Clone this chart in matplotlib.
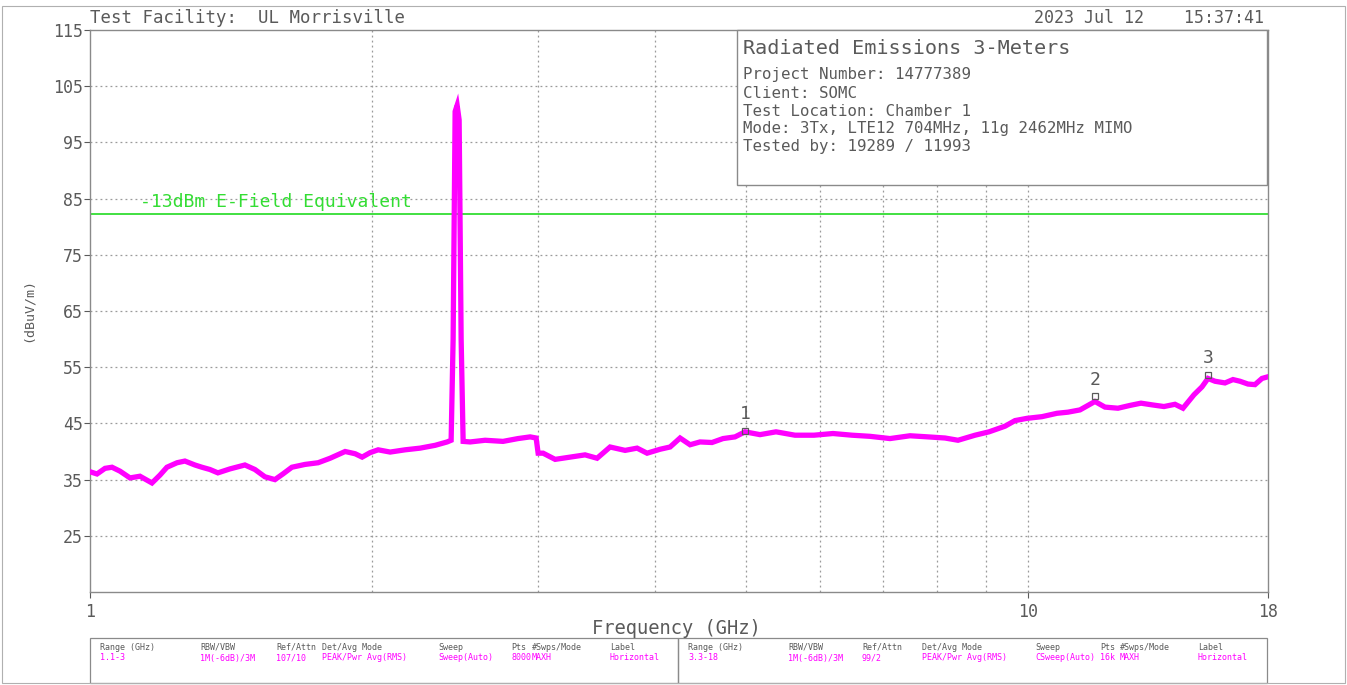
import matplotlib
matplotlib.use("Agg")
import matplotlib.pyplot as plt
from matplotlib.patches import Rectangle
from matplotlib.ticker import FixedLocator, NullFormatter

# ---- data ------------------------------------------------------------------
freq_ghz = [
    1.000, 1.0173, 1.0375, 1.0555, 1.0764, 1.1031, 1.1304, 1.1642, 1.1872, 1.2078,
    1.2381, 1.2622, 1.2935, 1.3159, 1.3420, 1.3686, 1.4095, 1.4624, 1.4987, 1.5359,
    1.5741, 1.6052, 1.6411, 1.6947, 1.7502, 1.8025, 1.8701, 1.9166, 1.9498, 1.9885,
    2.0279, 2.0885, 2.1668, 2.2481, 2.3323, 2.4019, 2.4256, 2.4375, 2.4495, 2.4616,
    2.4737, 2.4859, 2.4981, 2.5414, 2.6366, 2.7549, 2.8581, 2.9445, 2.9881,
    3.0028, 3.0398, 3.1306, 3.2477, 3.3694, 3.4701, 3.5826, 3.7170, 3.8280, 3.9230,
    4.0503, 4.1508, 4.2538, 4.3594, 4.4670, 4.6004, 4.7263, 4.8676, 4.9884, 5.1754,
    5.3827, 5.6396, 5.9085, 6.1903, 6.4854, 6.7782, 7.1193, 7.4780, 7.8155, 8.1485,
    8.4128, 8.7721, 9.0785, 9.4411, 9.6756, 9.9648, 10.338, 10.726, 11.019, 11.348,
    11.773, 12.065, 12.456, 12.829, 13.180, 13.541, 13.945, 14.327, 14.611, 15.011,
    15.308, 15.536, 15.805, 16.197, 16.518, 16.804, 17.137, 17.434, 17.736, 18.000,
]
level_dbuv = [
    36.4, 36.0, 37.0, 37.2, 36.5, 35.3, 35.6, 34.4, 35.8, 37.2,
    38.0, 38.3, 37.6, 37.2, 36.8, 36.2, 36.9, 37.6, 36.8, 35.5,
    35.0, 36.0, 37.2, 37.7, 38.0, 38.8, 40.0, 39.6, 39.0, 39.8,
    40.3, 39.9, 40.3, 40.6, 41.1, 41.7, 42.0, 60.0, 100.5, 101.6,
    99.0, 60.0, 41.8, 41.7, 42.0, 41.8, 42.3, 42.6, 42.4,
    39.7, 39.7, 38.6, 39.0, 39.4, 38.8, 40.8, 40.2, 40.6, 39.7,
    40.4, 40.8, 42.4, 41.2, 41.7, 41.6, 42.3, 42.6, 43.5, 43.0,
    43.5, 42.9, 42.9, 43.2, 42.9, 42.7, 42.3, 42.8, 42.6, 42.4,
    42.0, 42.9, 43.5, 44.5, 45.5, 45.9, 46.2, 46.8, 47.0, 47.4,
    48.9, 47.9, 47.7, 48.2, 48.6, 48.3, 48.0, 48.4, 47.7, 50.1,
    51.5, 53.0, 52.5, 52.2, 52.8, 52.5, 52.0, 51.9, 53.0, 53.3,
]
limit_dbuv = 82.3
limit_label = "-13dBm E-Field Equivalent"

marker_ids = ["1", "2", "3"]
marker_freq = [4.99, 11.77, 15.54]
marker_level = [43.6, 49.8, 53.7]

y_ticks = [25, 35, 45, 55, 65, 75, 85, 95, 105, 115]
x_major = [1, 10, 18]
x_grid = [2, 3, 4, 5, 6, 7, 8, 9, 10]

info_title = "Radiated Emissions 3-Meters"
info_lines = [
    "Project Number: 14777389",
    "Client: SOMC",
    "Test Location: Chamber 1",
    "Mode: 3Tx, LTE12 704MHz, 11g 2462MHz MIMO",
    "Tested by: 19289 / 11993",
]

table_head = ["Range (GHz)", "RBW/VBW", "Ref/Attn", "Det/Avg Mode", "Sweep",
              "Pts", "#Swps/Mode", "Label"]
table_row1 = ["1.1-3", "1M(-6dB)/3M", "107/10", "PEAK/Pwr Avg(RMS)",
              "Sweep(Auto)", "8000", "MAXH", "Horizontal"]
table_row2 = ["3.3-18", "1M(-6dB)/3M", "99/2", "PEAK/Pwr Avg(RMS)",
              "CSweep(Auto)", "16k", "MAXH", "Horizontal"]

# ---- figure -----------------------------------------------------------------
plt.rcParams["font.family"] = "DejaVu Sans Mono"
W, H = 1347, 685
fig = plt.figure(figsize=(W / 100, H / 100), dpi=100)
gray = "#5a5a5a"
frame = "#8a8a8a"
magenta = "#ff00ff"
green = "#33dd33"

def px(x, y):
    # pixel coordinates of the reference -> figure fraction
    return x / W, 1 - y / H

ax = fig.add_axes([90 / W, 1 - 592 / H, (1268 - 90) / W, (592 - 30) / H])
ax.set_xscale("log")
ax.set_xlim(1, 18)
ax.set_ylim(15, 115)

ax.xaxis.set_major_locator(FixedLocator(x_major))
ax.xaxis.set_minor_locator(FixedLocator(x_grid))
ax.xaxis.set_minor_formatter(NullFormatter())
ax.set_xticklabels([str(v) for v in x_major])
ax.set_yticks(y_ticks)
ax.tick_params(axis="both", which="both", colors=gray, labelsize=12,
               length=4, direction="out")
ax.tick_params(axis="x", which="minor", length=0)
ax.tick_params(axis="x", pad=4)
ax.tick_params(axis="y", pad=1)
for s in ax.spines.values():
    s.set_color(frame)
    s.set_linewidth(1.0)

for gx in x_grid:
    ax.axvline(gx, color="#9a9a9a", lw=0.9, ls=(0, (1.5, 2.5)), zorder=1)
for gy in y_ticks[:-1]:
    ax.axhline(gy, color="#9a9a9a", lw=0.9, ls=(0, (1.5, 2.5)), zorder=1)

ax.plot(freq_ghz, level_dbuv, color=magenta, lw=3.8, solid_joinstyle="miter", zorder=3)

ax.axhline(limit_dbuv, color=green, lw=1.3, zorder=2)
ax.text(1.13, limit_dbuv + 0.5, limit_label, color=green, fontsize=13,
        ha="left", va="bottom", zorder=5)

ax.plot(marker_freq, marker_level, ls="none", marker="s", ms=5, mfc="none",
        mec=gray, mew=0.9, zorder=6)
for mid, mf, ml in zip(marker_ids, marker_freq, marker_level):
    ax.text(mf, ml + 1.4, mid, color=gray, fontsize=13, ha="center", va="bottom", zorder=6)

# axis titles placed where the reference has them
fig.text(*px(676, 628), "Frequency (GHz)", color=gray, fontsize=13.5,
         ha="center", va="center")
fig.text(*px(28, 310), "(dBuV/m)", color=gray, fontsize=9.5, rotation=90,
         ha="center", va="center")

# header texts
fig.text(*px(90, 18), "Test Facility:  UL Morrisville", color=gray, fontsize=12.5,
         ha="left", va="center")
fig.text(*px(1264, 18), "2023 Jul 12    15:37:41", color=gray, fontsize=12,
         ha="right", va="center")

# info box
fig.patches.append(Rectangle(px(737, 185), (1267 - 737) / W, (185 - 30) / H,
                             transform=fig.transFigure, facecolor="white",
                             edgecolor=frame, lw=1.0, zorder=10))
fig.text(*px(743, 48), info_title, color=gray, fontsize=14.5, ha="left",
         va="center", zorder=11)
for i, line in enumerate(info_lines):
    fig.text(*px(743, 75 + 18 * i), line, color=gray, fontsize=11.3,
             ha="left", va="center", zorder=11)

# bottom setting tables
col_x1 = [100, 200, 276, 322, 438, 511, 532, 610]
col_x2 = [688, 788, 862, 922, 1035, 1100, 1120, 1198]
for x0, x1, cols, row in [(90, 678, col_x1, table_row1), (678, 1267, col_x2, table_row2)]:
    fig.patches.append(Rectangle(px(x0, 683), (x1 - x0) / W, (683 - 638) / H,
                                 transform=fig.transFigure, facecolor="none",
                                 edgecolor=frame, lw=0.9))
    for cx, h, v in zip(cols, table_head, row):
        fig.text(*px(cx, 647), h, color=gray, fontsize=6, ha="left", va="center")
        fig.text(*px(cx, 658), v, color=magenta, fontsize=6, ha="left", va="center")

# outer border of the sheet
fig.patches.append(Rectangle((2 / W, 2 / H), (W - 4) / W, (H - 8) / H,
                             transform=fig.transFigure, facecolor="none",
                             edgecolor="#b0b0b0", lw=0.8))

fig.savefig("out.png", dpi=100)
